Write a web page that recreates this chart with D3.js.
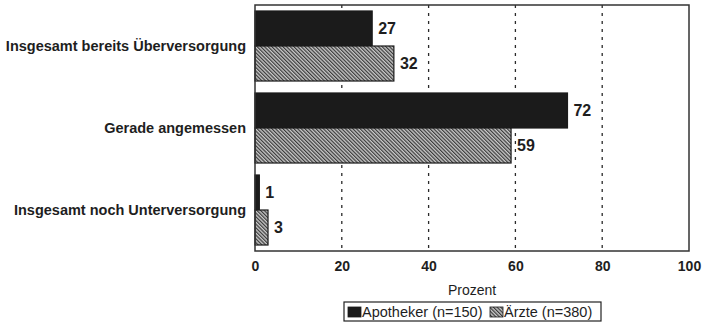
<!DOCTYPE html>
<html>
<head>
<meta charset="utf-8">
<script src="https://cdn.jsdelivr.net/npm/d3@7"></script>
<style>
  body { margin: 0; background: #fff; }
  text { font-family: Arial, "Liberation Sans", sans-serif; fill: #1e1e1e; }
</style>
</head>
<body>
<div id="chart"></div>
<script>
"use strict";

// data
const categories = ["Insgesamt bereits Überversorgung", "Gerade angemessen", "Insgesamt noch Unterversorgung"];
const apotheker = [27, 72, 1];
const aerzte = [32, 59, 3];
const seriesNames = ["Apotheker (n=150)", "Ärzte (n=380)"];
const xTicks = [0, 20, 40, 60, 80, 100];

var width = 704,
    height = 325,
    plotLeft = 255,
    plotRight = 689,
    plotTop = 5,
    plotBottom = 251;

var svg = d3.select("#chart").append("svg")
  .attr("width", width)
  .attr("height", height);

var defs = svg.append("defs");
var pat = defs.append("pattern")
  .attr("id", "hatch")
  .attr("patternUnits", "userSpaceOnUse")
  .attr("width", 2.6)
  .attr("height", 2.6)
  .attr("patternTransform", "rotate(-45)");
pat.append("rect").attr("width", 2.6).attr("height", 2.6).attr("fill", "#c8c8c8");
pat.append("rect").attr("width", 1.2).attr("height", 2.6).attr("fill", "#3a3a3a");

var xScale = d3.scaleLinear().domain([0, 100]).range([plotLeft, plotRight]);

var yScale = d3.scaleBand()
  .domain(categories)
  .range([plotTop, plotBottom])
  .paddingInner(0.146)
  .paddingOuter(0.073);

var sub = d3.scaleBand()
  .domain([0, 1])
  .range([0, yScale.bandwidth()]);

// dashed grid
svg.append("g").selectAll("line")
  .data(xTicks.filter(d => d > 0 && d < 100))
  .enter().append("line")
    .attr("x1", d => xScale(d))
    .attr("x2", d => xScale(d))
    .attr("y1", plotTop)
    .attr("y2", plotBottom)
    .attr("stroke", "#2a2a2a")
    .attr("stroke-width", 1.3)
    .attr("stroke-dasharray", "3,5");

var rows = categories.map((c, i) => ({ cat: c, vals: [apotheker[i], aerzte[i]] }));

var groups = svg.append("g").selectAll("g")
  .data(rows)
  .enter().append("g")
    .attr("transform", d => "translate(0," + yScale(d.cat) + ")");

groups.selectAll("rect")
  .data(d => d.vals)
  .enter().append("rect")
    .attr("x", xScale(0))
    .attr("y", (d, i) => sub(i))
    .attr("width", d => xScale(d) - xScale(0))
    .attr("height", sub.bandwidth())
    .attr("fill", (d, i) => i === 0 ? "#1b1b1b" : "url(#hatch)")
    .attr("stroke", "#1b1b1b")
    .attr("stroke-width", 1.2);

groups.selectAll("text.val")
  .data(d => d.vals)
  .enter().append("text")
    .attr("class", "val")
    .attr("x", d => xScale(d) + 6)
    .attr("y", (d, i) => sub(i) + sub.bandwidth() / 2)
    .attr("dy", "0.36em")
    .style("font-size", "16px")
    .style("font-weight", "bold")
    .text(d => d);

// frame
svg.append("rect")
  .attr("x", plotLeft)
  .attr("y", plotTop)
  .attr("width", plotRight - plotLeft)
  .attr("height", plotBottom - plotTop)
  .attr("fill", "none")
  .attr("stroke", "#333")
  .attr("stroke-width", 1.5);

// category labels
svg.append("g").selectAll("text")
  .data(categories)
  .enter().append("text")
    .attr("x", 246)
    .attr("y", d => yScale(d) + yScale.bandwidth() / 2)
    .attr("dy", "0.36em")
    .attr("text-anchor", "end")
    .style("font-size", "14.5px")
    .style("font-weight", "bold")
    .text(d => d);

// x axis labels
var xAxis = d3.axisBottom(xScale).tickValues(xTicks).tickSize(0).tickPadding(10);
var ax = svg.append("g")
  .attr("transform", "translate(0," + plotBottom + ")")
  .call(xAxis);
ax.select(".domain").remove();
ax.selectAll("text")
  .style("font-size", "14px")
  .style("font-weight", "bold")
  .style("font-family", "Arial, 'Liberation Sans', sans-serif")
  .attr("fill", "#1e1e1e");

svg.append("text")
  .attr("x", xScale(50))
  .attr("y", 295)
  .attr("text-anchor", "middle")
  .style("font-size", "14px")
  .text("Prozent");

// legend
var lg = svg.append("g").attr("transform", "translate(344,302)");
lg.append("rect")
  .attr("width", 257)
  .attr("height", 19)
  .attr("fill", "#fff")
  .attr("stroke", "#222")
  .attr("stroke-width", 1.2);
var lx = [4, 146];
seriesNames.forEach(function (name, i) {
  lg.append("rect")
    .attr("x", lx[i])
    .attr("y", 5)
    .attr("width", 13)
    .attr("height", 10)
    .attr("fill", i === 0 ? "#1b1b1b" : "url(#hatch)")
    .attr("stroke", "#1b1b1b")
    .attr("stroke-width", 0.8);
  lg.append("text")
    .attr("x", lx[i] + 14)
    .attr("y", 10)
    .attr("dy", "0.36em")
    .style("font-size", "14.5px")
    .text(name);
});
</script>
</body>
</html>
